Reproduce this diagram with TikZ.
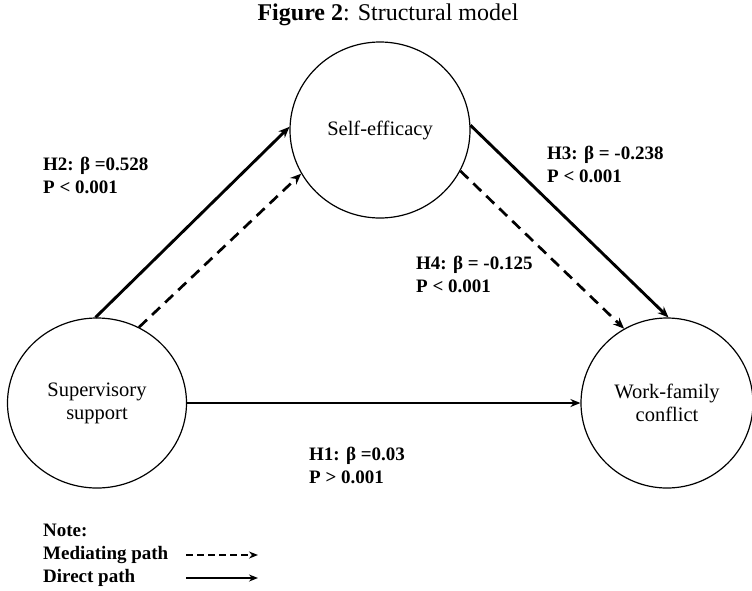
\documentclass[tikz,border=0pt]{standalone}
\usepackage{fontspec}
\setmainfont{Liberation Serif}
\usetikzlibrary{arrows.meta,shapes.geometric}
\begin{document}
\begin{tikzpicture}[x=1pt,y=-1pt,
  latent/.style={ellipse,draw,line width=1.2pt,inner sep=0pt,align=center,font=\fontsize{20.5}{23}\selectfont},
  lbl/.style={anchor=west,align=left,inner sep=0pt,font=\fontsize{19}{23}\selectfont\bfseries},
  direct/.style={line width=2.9pt,-{Stealth[length=11pt,width=9pt]}},
  mediate/.style={line width=2.7pt,dash pattern=on 11pt off 7pt,-{Stealth[length=11pt,width=9pt]}},
  thinarrow/.style={line width=2.1pt,-{Stealth[length=10pt,width=8pt]}}]
\useasboundingbox (0,0) rectangle (752,590);
\node[font=\fontsize{24}{28}\selectfont] (title) at (388,15) {\textbf{Figure 2}: Structural model};
\node[latent,minimum width=180pt,minimum height=176pt] (SE) at (380,130) {Self-efficacy};
\node[latent,minimum width=179pt,minimum height=170pt] (SS) at (97,403) {Supervisory\\support};
\node[latent,minimum width=172pt,minimum height=170pt] (WF) at (667,403) {Work-family\\conflict};
\draw[direct] (SS.91) -- (SE.178);
\draw[mediate] (SS.61) -- (SE.209);
\draw[direct] (SE.3) -- (WF.89);
\draw[mediate] (SE.333) -- (WF.120);
\draw[thinarrow] (SS.east) -- (WF.west);
\node[lbl] (h2) at (43,175.5) {H2: β =0.528\\P < 0.001};
\node[lbl] (h3) at (547,164) {H3: β = -0.238\\P < 0.001};
\node[lbl] (h4) at (416,274) {H4: β = -0.125\\P < 0.001};
\node[lbl] (h1) at (309,465.5) {H1: β =0.03\\P > 0.001};
\node[lbl] (note) at (43,530) {Note:};
\node[lbl] (med) at (43,555) {Mediating path};
\node[lbl] (dir) at (43,578) {Direct path};
\coordinate (m1) at (186,555); \coordinate (m2) at (258,555);
\coordinate (d1) at (186,578); \coordinate (d2) at (258,578);
\draw[line width=2.1pt,dash pattern=on 7pt off 4pt,-{Stealth[length=9pt,width=7pt]}] (m1) -- (m2);
\draw[line width=2.1pt,-{Stealth[length=9pt,width=7pt]}] (d1) -- (d2);
\end{tikzpicture}
\end{document}
